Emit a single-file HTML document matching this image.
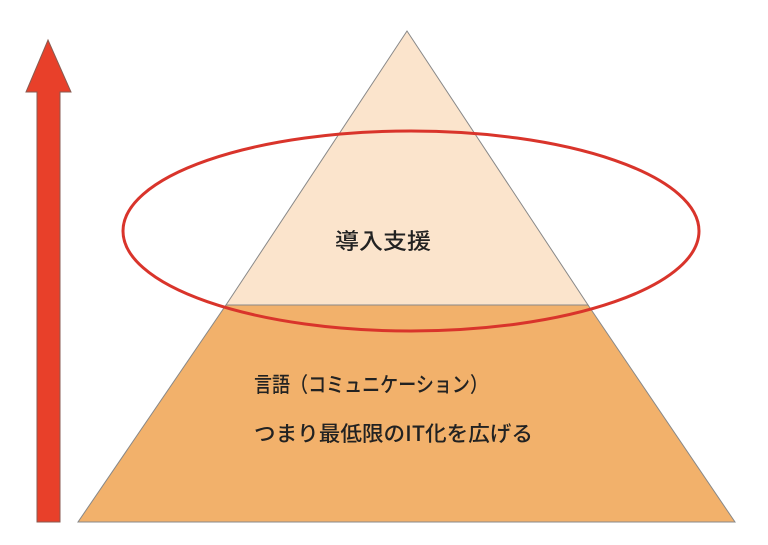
<!DOCTYPE html>
<html><head><meta charset="utf-8"><style>html,body{margin:0;background:#fff}</style></head><body>
<svg width="768" height="540" viewBox="0 0 768 540" xmlns="http://www.w3.org/2000/svg">
<rect width="768" height="540" fill="#fff"/>
<polygon points="48,40 71,92 60,92 60,522 37,522 37,92 26,92" fill="#e8402a" stroke="#8a5a50" stroke-width="1"/>
<polygon points="78,522 735,522 588,305 226,305" fill="#f2b16b" stroke="#888" stroke-width="1"/>
<polygon points="407,31 588,305 226,305" fill="#fbe4cc" stroke="#888" stroke-width="1"/>
<ellipse cx="411" cy="231" rx="288" ry="100" fill="none" stroke="#d9342b" stroke-width="3"/>
<g font-family="'Noto Sans CJK JP',sans-serif" fill="#222" font-weight="500">
<text x="335" y="249" font-size="22" textLength="96" lengthAdjust="spacingAndGlyphs">導入支援</text>
<text x="254" y="392" font-size="21" textLength="234" lengthAdjust="spacingAndGlyphs">言語（コミュニケーション）</text>
<text x="254" y="441" font-size="21" textLength="279" lengthAdjust="spacingAndGlyphs">つまり最低限のIT化を広げる</text>
</g>
</svg>
</body></html>
